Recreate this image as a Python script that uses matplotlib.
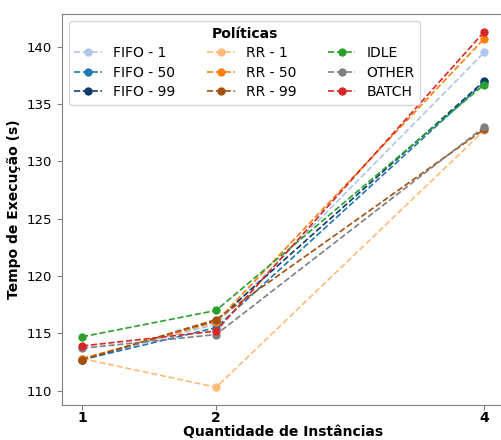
import matplotlib
matplotlib.use('Agg')
import matplotlib.pyplot as plt

# dados
instancias = [1, 2, 4]
politicas = ['FIFO - 1', 'FIFO - 50', 'FIFO - 99',
             'RR - 1', 'RR - 50', 'RR - 99',
             'IDLE', 'OTHER', 'BATCH']
fifo_1 = [112.8, 115.8, 139.5]
fifo_50 = [112.7, 115.5, 136.9]
fifo_99 = [112.7, 116.1, 137.0]
rr_1 = [112.8, 110.3, 132.7]
rr_50 = [112.8, 116.0, 140.7]
rr_99 = [112.7, 116.2, 132.8]
idle = [114.7, 117.0, 136.7]
other = [113.7, 114.9, 133.0]
batch = [113.9, 115.2, 141.3]
valores = [fifo_1, fifo_50, fifo_99, rr_1, rr_50, rr_99, idle, other, batch]

cores = ['#aec7e8', '#1f77b4', '#0b3c6b',
         '#ffbb78', '#ff7f0e', '#a6500c',
         '#2ca02c', '#7f7f7f', '#d62728']

fig = plt.figure(figsize=(5.02, 4.4), dpi=100)
ax = fig.add_axes([0.1235, 0.0795, 0.881, 0.8885])

for nome, v, c in zip(politicas, valores, cores):
    ax.plot(instancias, v, linestyle='--', marker='o', markersize=5,
            color=c, label=nome, linewidth=1.2)

ax.set_xticks(instancias)
ax.set_xticklabels([str(i) for i in instancias], fontweight='bold', fontsize=10)
ax.tick_params(axis='x', pad=1)
ax.tick_params(axis='y', labelsize=9.5)
ax.tick_params(axis='both', color='gray')
for s in ax.spines.values():
    s.set_color('gray')

ax.set_xlabel('Quantidade de Instâncias', fontweight='bold', fontsize=10, labelpad=0)
ax.set_ylabel('Tempo de Execução (s)', fontweight='bold', fontsize=10)

leg = ax.legend(title='Políticas', ncol=3, loc='upper left', fontsize=10,
                title_fontproperties={'weight': 'bold', 'size': 10},
                handlelength=2.0, columnspacing=2.25, labelspacing=0.4)

fig.savefig('out.png', dpi=100)
